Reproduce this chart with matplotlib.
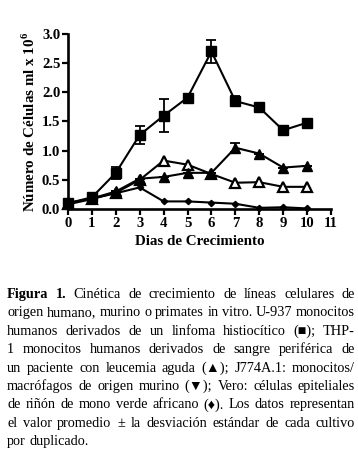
import matplotlib
matplotlib.use('Agg')
import matplotlib.pyplot as plt

days = list(range(11))
u937 = [0.10, 0.20, 0.62, 1.27, 1.60, 1.91, 2.70, 1.85, 1.74, 1.35, 1.48]
u937_err = [0.0, 0.0, 0.10, 0.15, 0.28, 0.0, 0.20, 0.08, 0.05, 0.0, 0.04]
thp1 = [0.10, 0.18, 0.30, 0.52, 0.55, 0.62, 0.62, 1.05, 0.95, 0.71, 0.74]
thp1_err = [0.0, 0.0, 0.0, 0.0, 0.0, 0.0, 0.0, 0.08, 0.0, 0.0, 0.0]
j774 = [0.08, 0.17, 0.28, 0.50, 0.83, 0.76, 0.60, 0.45, 0.46, 0.38, 0.38]
vero = [0.10, 0.18, 0.27, 0.37, 0.13, 0.13, 0.11, 0.09, 0.02, 0.03, 0.01]

xticks = list(range(12))
yticks = [0.0, 0.5, 1.0, 1.5, 2.0, 2.5, 3.0]

caption = [
    [("Figura 1.", 'bold'), ("Cinética de crecimiento de líneas celulares de", 'normal')],
    [("origen humano, murino o primates in vitro. U-937 monocitos", 'normal')],
    [("humanos derivados de un linfoma histiocítico (■); THP-", 'normal')],
    [("1 monocitos humanos derivados de sangre periférica de", 'normal')],
    [("un paciente con leucemia aguda (▲); J774A.1: monocitos/", 'normal')],
    [("macrófagos de origen murino (▼); Vero: células epiteliales", 'normal')],
    [("de riñón de mono verde africano (♦). Los datos representan", 'normal')],
    [("el valor promedio ± la desviación estándar de cada cultivo", 'normal')],
    [("por duplicado.", 'normal')],
]

plt.rcParams['mathtext.fontset'] = 'custom'
plt.rcParams['mathtext.rm'] = 'Liberation Serif:bold'
plt.rcParams['mathtext.bf'] = 'Liberation Serif:bold'

W, H = 358, 465
fig = plt.figure(figsize=(W / 100, H / 100), dpi=100)
ax = fig.add_axes([68 / W, 1 - 209 / H, (331 - 68) / W, (209 - 34) / H])

serif = ['Liberation Serif', 'DejaVu Serif']
kw = dict(color='black', lw=1.5, clip_on=False, zorder=3)
ax.errorbar(days, u937, yerr=u937_err, marker='s', ms=7, mfc='black', mec='black',
            capsize=3.5, elinewidth=1.3, capthick=1.3, **kw)
ax.errorbar(days, thp1, yerr=thp1_err, marker='^', ms=7, mfc='black', mec='black',
            capsize=3.5, elinewidth=1.3, capthick=1.3, **kw)
ax.plot(days, j774, marker='^', ms=7.5, mfc='white', mec='black', mew=1.6, **kw)
ax.plot(days, vero, marker='D', ms=3.2, mfc='black', mec='black', **kw)

ax.set_xlim(0, 11)
ax.set_ylim(0, 3.0)
ax.set_xticks(xticks)
ax.set_yticks(yticks)
ax.set_yticklabels([f'{v:.1f}' for v in yticks])
for s in ['top', 'right']:
    ax.spines[s].set_visible(False)
for s in ['left', 'bottom']:
    ax.spines[s].set_linewidth(1.9)
ax.tick_params(direction='out', length=4, width=1.6, pad=1.5)
for lab in ax.get_xticklabels() + ax.get_yticklabels():
    lab.set_fontfamily(serif)
    lab.set_fontweight('bold')
    lab.set_fontsize(10.6)
ax.set_xlabel('Dias de Crecimiento', family=serif, weight='bold', fontsize=10.8, labelpad=4)
ax.set_ylabel('Número de Células ml x 10$^{6}$', family=serif, weight='bold',
              fontsize=10.8, labelpad=3)

# justified caption
fig.canvas.draw()
r = fig.canvas.get_renderer()
left, right = 7, 355
y0, dy = 298, 18.4
cap_font = ['Liberation Serif', 'DejaVu Sans']
for i, segs in enumerate(caption):
    words = []
    for txt, wt in segs:
        for w in txt.split():
            words.append((w, wt))
    fs = 10.3
    while True:
        texts = [fig.text(0, 1 - (y0 + i * dy) / H, w, family=cap_font, weight=wt,
                          fontsize=fs, va='baseline', ha='left') for w, wt in words]
        widths = [t.get_window_extent(r).width for t in texts]
        gap = (right - left - sum(widths)) / (len(words) - 1)
        if gap >= 2.5 or fs < 8.5:
            break
        for t in texts:
            t.remove()
        fs -= 0.1
    if i == len(caption) - 1:
        gap = fs * 0.25 * 100 / 72
    x = left
    for t, wd in zip(texts, widths):
        t.set_x(x / W)
        x += wd + gap

fig.savefig('out.png', dpi=100)
